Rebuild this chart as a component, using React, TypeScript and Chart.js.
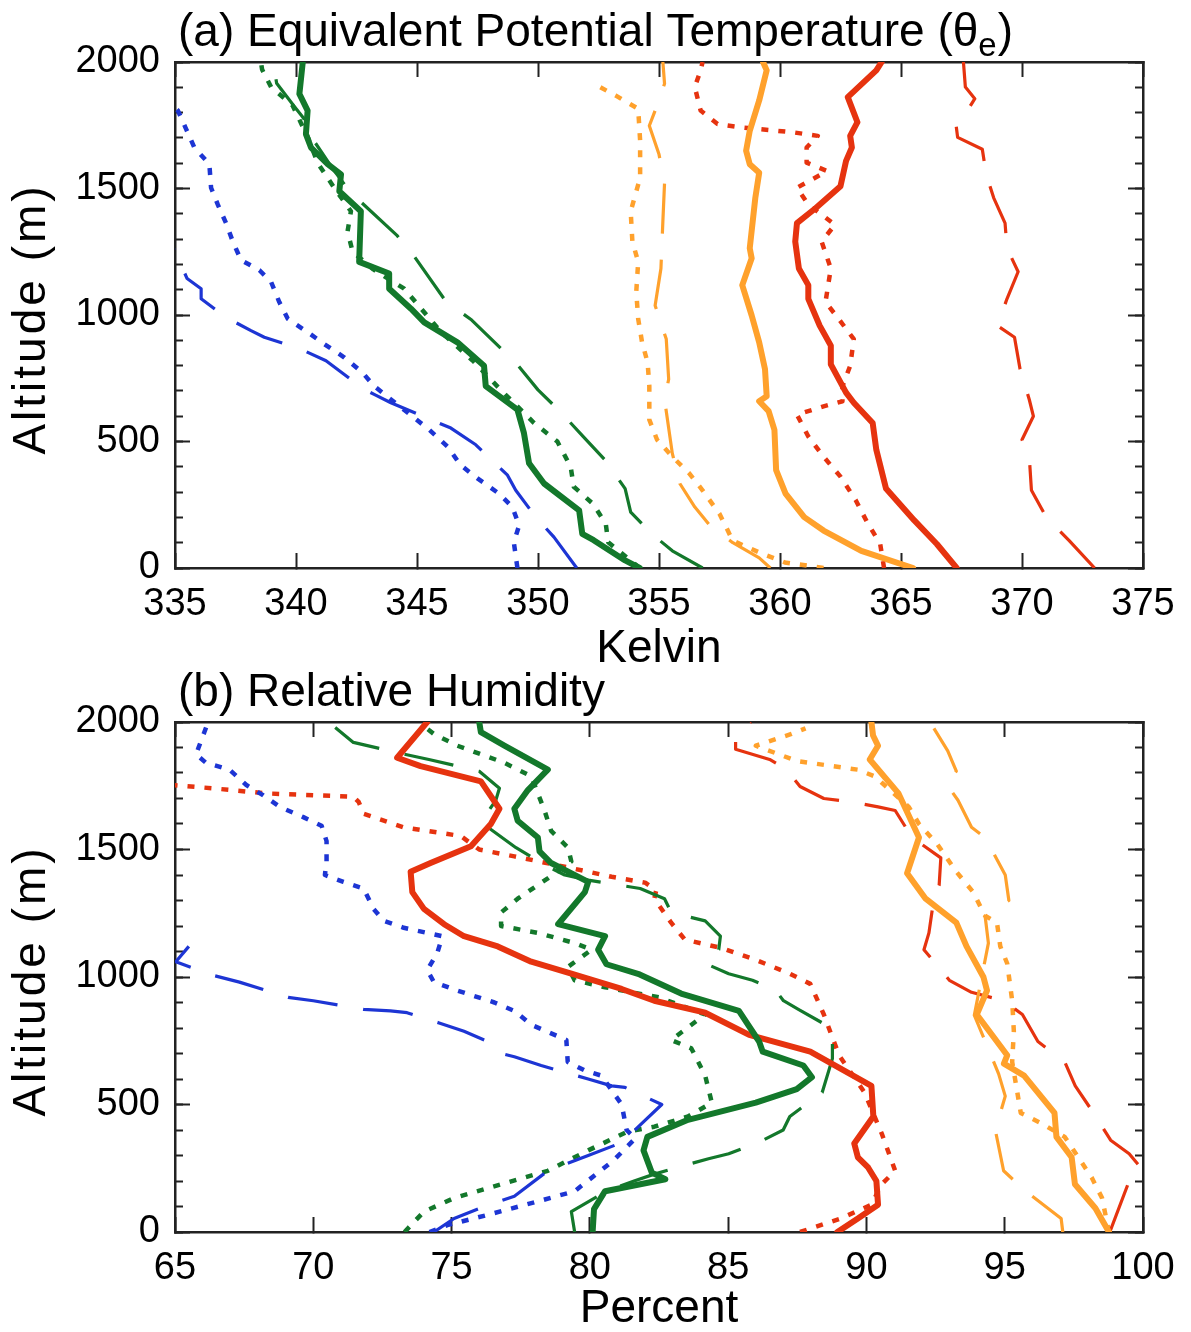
import React, { useEffect, useRef } from "react";
import { Chart, registerables } from "chart.js";

Chart.register(...registerables);

const FONT = "'Liberation Sans', Arial, Helvetica, sans-serif";

// ---------- Panel (a): equivalent potential temperature, pairs [Kelvin, altitude m]
const aXTicksStep = 5;
const aXRange = [335, 375];
const aTitle = ["(a) Equivalent Potential Temperature (θ", "e", ")"];

const aBlueDashed: [number, number][] = [
  [351.6, 0], [350.66, 122], [349.91, 201], [349.08, 307], [348.74, 367], [347.43, 487],
  [346.4, 553], [343.92, 653], [343.23, 686], [342.82, 706], [341.24, 819], [340.2, 865],
  [338.69, 912], [338.14, 938], [337.1, 991], [336.08, 1064], [336.08, 1104], [335.5, 1144],
  [335.1, 1230], [334.8, 1290],
];
const aBlueDotted: [number, number][] = [
  [349.15, 0], [349.0, 102], [349.22, 168], [348.94, 241], [348.39, 294], [347.5, 354],
  [346.8, 407], [346.26, 480], [345.5, 547], [344.4, 630], [343.23, 719], [342.75, 772],
  [342.0, 832], [341.17, 885], [340.48, 932], [339.66, 985], [339.31, 1051], [338.97, 1131],
  [338.49, 1177], [337.73, 1217], [337.39, 1290], [337.11, 1363], [336.77, 1436],
  [336.49, 1503], [336.42, 1596], [335.8, 1662], [335.46, 1735], [335.12, 1808], [334.9, 1830],
];
const aGreenSolid: [number, number][] = [
  [354.2, 0], [353.6, 30], [352.3, 110], [351.83, 135], [351.7, 228], [350.25, 334],
  [349.63, 414], [349.42, 533], [349.15, 626], [347.84, 719], [347.77, 799], [346.67, 892],
  [345.3, 971], [344.75, 1025], [343.85, 1104], [343.85, 1164], [342.61, 1210], [342.68, 1410],
  [341.79, 1489], [341.86, 1556], [341.31, 1596], [340.62, 1662], [340.41, 1715],
  [340.48, 1808], [340.14, 1874], [340.28, 2000],
];
const aGreenDashed: [number, number][] = [
  [356.8, 0], [355.55, 68], [354.7, 135], [353.83, 221], [353.6, 314], [352.77, 427],
  [351.87, 519], [350.9, 620], [350.0, 704], [349.1, 809], [347.26, 980], [346.2, 1053],
  [344.9, 1230], [344.16, 1316], [342.27, 1483], [341.5, 1580], [340.8, 1680], [340.3, 1780],
  [339.9, 1828], [339.2, 1916], [339.06, 2000],
];
const aGreenDotted: [number, number][] = [
  [354.2, 0], [352.9, 102], [352.8, 175], [352.27, 254], [351.48, 321], [351.35, 400],
  [350.8, 500], [349.84, 573], [348.5, 700], [347.3, 820], [346.0, 932], [344.47, 1104],
  [343.2, 1180], [342.34, 1250], [342.13, 1330], [342.27, 1410], [341.6, 1500], [340.9, 1600],
  [340.5, 1700], [339.86, 1828], [338.97, 1901], [338.6, 1970], [338.55, 2000],
];
const aOrangeSolid: [number, number][] = [
  [365.5, 0], [363.36, 68], [361.8, 148], [361.0, 201], [360.23, 294], [359.84, 387],
  [359.77, 546], [359.53, 620], [359.14, 659], [359.45, 679], [359.38, 786], [359.14, 892],
  [358.83, 998], [358.44, 1118], [358.83, 1224], [358.75, 1264], [358.98, 1463], [359.14, 1562],
  [358.75, 1596], [358.6, 1649], [358.75, 1728], [359.14, 1848], [359.45, 1967], [359.3, 2000],
];
const aOrangeDashed: [number, number][] = [
  [359.6, 0], [359.14, 40], [358.05, 100], [357.1, 168], [356.48, 241], [355.86, 334],
  [355.55, 453], [355.23, 666], [355.4, 746], [355.3, 905], [354.84, 1038], [355.08, 1184],
  [355.16, 1370], [355.23, 1523], [355.0, 1635], [354.6, 1748], [354.84, 1808], [355.23, 1914],
  [355.16, 2000],
];
const aOrangeDotted: [number, number][] = [
  [361.8, 0], [360.2, 22], [359.3, 55], [358.05, 108], [357.5, 214], [356.8, 307],
  [356.25, 374], [355.55, 440], [354.92, 507], [354.6, 586], [354.6, 719], [354.53, 812],
  [354.3, 892], [354.14, 985], [354.06, 1091], [354.14, 1210], [353.9, 1290], [353.83, 1410],
  [354.22, 1542], [354.22, 1689], [354.14, 1815], [353.2, 1868], [352.42, 1908],
];
const aRedSolid: [number, number][] = [
  [367.3, 0], [366.48, 95], [365.55, 188], [364.38, 314], [363.98, 467], [363.83, 573],
  [363.05, 653], [362.73, 693], [362.1, 805], [362.1, 879], [361.64, 958], [361.17, 1064],
  [361.17, 1118], [360.78, 1184], [360.63, 1290], [360.7, 1363], [361.48, 1423], [362.5, 1509],
  [362.73, 1609], [362.97, 1662], [362.9, 1708], [363.2, 1762], [362.8, 1861], [363.98, 1967],
  [364.2, 2000],
];
const aRedDashed: [number, number][] = [
  [373.0, 0], [371.95, 108], [371.0, 201], [370.39, 307], [370.3, 440], [370.0, 507],
  [370.47, 600], [370.3, 666], [369.92, 786], [369.69, 912], [368.98, 958], [369.38, 1064],
  [369.84, 1171], [369.38, 1264], [369.3, 1363], [368.83, 1463], [368.52, 1556], [368.36, 1655],
  [367.34, 1702], [367.27, 1755], [367.66, 1795], [368.05, 1855], [367.66, 1901], [367.58, 2000],
];
const aRedDotted: [number, number][] = [
  [364.3, 0], [364.14, 95], [363.6, 181], [363.13, 268], [362.5, 361], [361.8, 440],
  [361.17, 520], [360.7, 606], [361.8, 639], [362.58, 659], [362.58, 719], [362.9, 799],
  [363.05, 905], [362.42, 985], [361.88, 1051], [362.1, 1184], [361.72, 1290], [362.27, 1357],
  [361.17, 1436], [360.7, 1503], [361.95, 1569], [361.1, 1602], [361.1, 1662], [361.56, 1708],
  [360.55, 1722], [358.36, 1742], [357.42, 1755], [356.72, 1808], [356.48, 1901],
  [356.72, 1967], [356.8, 2000],
];

// ---------- Panel (b): relative humidity, pairs [percent, altitude m]
const bXTicksStep = 5;
const bXRange = [65, 100];
const bTitle = ["(b) Relative Humidity"];

const bBlueDashed: [number, number][] = [
  [74.36, 0], [75.09, 53], [76.18, 100], [77.27, 140], [78.48, 240], [79.94, 300],
  [81.21, 353], [81.7, 407], [82.6, 500], [81.27, 567], [80.79, 573], [79.94, 600],
  [78.24, 653], [77.27, 687], [76.79, 700], [76.18, 753], [75.45, 787], [74.55, 820],
  [73.39, 860], [72.79, 867], [71.82, 873], [70.0, 907], [69.09, 920], [67.33, 980],
  [66.36, 1007], [65.03, 1060], [65.5, 1120],
];
const bBlueDotted: [number, number][] = [
  [74.2, 0], [74.85, 27], [76.3, 67], [78.12, 120], [79.45, 160], [80.85, 280],
  [81.64, 367], [81.33, 400], [81.15, 500], [80.42, 613], [79.82, 633], [79.2, 667],
  [79.15, 753], [77.88, 813], [77.27, 867], [76.55, 900], [75.2, 947], [74.36, 980],
  [74.12, 1027], [74.48, 1093], [74.67, 1160], [73.27, 1193], [72.55, 1220], [72.18, 1267],
  [71.82, 1347], [71.09, 1373], [70.42, 1400], [70.48, 1453], [70.48, 1533], [70.3, 1593],
  [69.64, 1627], [68.79, 1667], [68.18, 1713], [67.58, 1753], [66.97, 1813], [66.12, 1840],
  [65.76, 1873], [66.06, 1960], [66.2, 2000],
];
const bGreenSolid: [number, number][] = [
  [80.1, 0], [80.15, 90], [80.55, 160], [82.73, 207], [82.24, 233], [81.94, 320],
  [82.08, 373], [83.55, 440], [86.0, 507], [87.48, 560], [88.03, 607], [87.72, 653],
  [86.25, 707], [86.12, 747], [85.39, 867], [83.3, 935], [81.8, 1010], [80.6, 1050],
  [80.3, 1107], [80.55, 1160], [78.85, 1207], [79.82, 1333], [79.94, 1373], [78.6, 1447],
  [78.18, 1493], [78.12, 1547], [77.39, 1613], [77.27, 1660], [77.76, 1733], [78.48, 1813],
  [76.91, 1907], [76.06, 1960], [76.0, 2000],
];
const bGreenDashed: [number, number][] = [
  [79.45, 0], [79.33, 80], [80.6, 160], [81.6, 200], [82.33, 227], [83.37, 260],
  [84.29, 287], [85.02, 307], [86.13, 353], [86.99, 400], [87.23, 453], [88.4, 547],
  [88.77, 680], [88.77, 773], [88.52, 813], [87.54, 873], [87.0, 907], [86.68, 953],
  [85.88, 987], [85.02, 1013], [84.17, 1053], [84.66, 1107], [84.72, 1160], [84.17, 1220],
  [82.94, 1253], [82.7, 1307], [81.82, 1347], [79.94, 1380], [79.09, 1400], [78.36, 1440],
  [77.33, 1507], [76.06, 1607], [76.6, 1693], [76.73, 1740], [76.0, 1807], [74.18, 1853],
  [73.03, 1880], [71.45, 1920], [70.55, 2000],
];
const bGreenDotted: [number, number][] = [
  [73.3, 0], [74.0, 80], [75.09, 133], [76.79, 187], [78.48, 240], [79.94, 320],
  [81.35, 393], [82.33, 413], [83.55, 453], [84.41, 507], [84.17, 613], [83.67, 720],
  [82.94, 753], [84.17, 853], [82.5, 920], [80.55, 960], [79.45, 987], [79.21, 1040],
  [80.06, 1107], [79.45, 1133], [78.12, 1173], [76.79, 1200], [76.79, 1253], [77.39, 1307],
  [78.48, 1387], [79.33, 1453], [79.21, 1507], [78.6, 1573], [78.36, 1653], [77.88, 1787],
  [76.91, 1840], [75.21, 1907], [74.36, 1953], [74.1, 1975],
];
const bOrangeSolid: [number, number][] = [
  [98.77, 0], [98.28, 93], [97.54, 187], [97.42, 293], [96.87, 373], [96.8, 467],
  [95.7, 613], [94.97, 660], [95.09, 693], [93.99, 853], [94.36, 947], [94.23, 1000],
  [93.62, 1120], [93.25, 1213], [92.14, 1307], [91.47, 1407], [91.9, 1547], [91.16, 1720],
  [90.12, 1853], [90.42, 1907], [90.24, 1947], [90.18, 2000],
];
const bOrangeDashed: [number, number][] = [
  [97.1, 0], [97.04, 53], [95.76, 160], [94.96, 240], [94.66, 400], [95.02, 533],
  [94.78, 620], [94.35, 733], [93.9, 850], [94.41, 1133], [94.29, 1240], [95.15, 1300],
  [95.02, 1400], [94.29, 1547], [93.8, 1587], [93.31, 1693], [92.88, 1760], [93.25, 1807],
  [92.94, 1887], [92.3, 2000],
];
const bOrangeDotted: [number, number][] = [
  [98.77, 0], [98.52, 133], [98.15, 213], [97.66, 293], [97.17, 373], [96.31, 427],
  [95.58, 467], [95.27, 667], [95.33, 787], [95.27, 907], [95.09, 1053], [94.84, 1120],
  [94.72, 1213], [94.29, 1240], [93.86, 1333], [93.25, 1413], [92.57, 1520], [91.9, 1600],
  [91.53, 1667], [90.3, 1787], [89.69, 1813], [87.48, 1847], [86.0, 1907], [87.29, 1953],
  [87.8, 1975],
];
const bRedSolid: [number, number][] = [
  [88.95, 0], [89.69, 53], [90.42, 107], [90.36, 200], [90.06, 253], [89.69, 293],
  [89.56, 347], [90.25, 453], [90.18, 573], [87.97, 707], [85.76, 773], [84.17, 860],
  [82.33, 907], [81.15, 953], [79.33, 1013], [77.88, 1060], [76.67, 1120], [75.45, 1160],
  [74.73, 1207], [74.0, 1267], [73.58, 1333], [73.52, 1413], [74.24, 1447], [75.7, 1513],
  [76.42, 1600], [76.73, 1660], [76.06, 1767], [73.88, 1827], [73.03, 1860], [74.12, 2000],
];
const bRedDashed: [number, number][] = [
  [98.8, 0], [99.5, 200], [99.9, 255], [99.5, 307], [98.83, 360], [98.21, 467],
  [97.55, 573], [97.17, 667], [96.2, 747], [95.64, 853], [94.96, 907], [93.8, 940],
  [93.0, 987], [92.08, 1107], [92.26, 1173], [92.42, 1293], [92.63, 1360], [92.69, 1467],
  [91.65, 1547], [91.04, 1653], [90.42, 1667], [89.44, 1687], [88.46, 1700], [87.6, 1747],
  [87.12, 1813], [86.5, 1853], [85.27, 1893], [85.27, 1947], [85.82, 2000],
];
const bRedDotted: [number, number][] = [
  [87.6, 0], [89.07, 53], [90.18, 107], [90.55, 187], [91.04, 240], [90.55, 387],
  [89.93, 547], [89.01, 693], [88.46, 853], [87.97, 973], [87.23, 1013], [86.0, 1067],
  [84.78, 1113], [83.43, 1147], [82.94, 1213], [82.33, 1307], [82.4, 1340], [82.0, 1370],
  [80.79, 1393], [79.33, 1427], [77.27, 1473], [76.0, 1500], [75.33, 1553], [73.27, 1587],
  [71.82, 1640], [71.64, 1687], [71.45, 1707], [70.0, 1713], [68.3, 1720], [66.36, 1740],
  [64.9, 1753],
];

const altRange = [0, 2000];
const yTitle = "Altitude (m)";

// ---------- styles
const BLUE = "#1d35d4";
const GREEN = "#13782b";
const ORANGE = "#ffa12c";
const RED = "#e6330f";

type Style = "solid" | "dashed" | "dotted";
const STYLE: Record<Style, { borderWidth: number; borderDash: number[]; borderCapStyle: string }> = {
  solid: { borderWidth: 6, borderDash: [], borderCapStyle: "round" },
  dashed: { borderWidth: 3.2, borderDash: [50, 26], borderCapStyle: "butt" },
  dotted: { borderWidth: 4.5, borderDash: [7, 10], borderCapStyle: "butt" },
};

function ds(label: string, pts: [number, number][], color: string, style: Style) {
  const s = STYLE[style];
  return {
    label,
    data: pts.map(([v, a]) => ({ x: v, y: a })),
    borderColor: color,
    backgroundColor: color,
    borderWidth: s.borderWidth,
    borderDash: s.borderDash,
    borderCapStyle: s.borderCapStyle,
    borderJoinStyle: "round",
    pointRadius: 0,
    pointHoverRadius: 0,
    fill: false,
    tension: 0,
    clip: 0,
  };
}

function titlePlugin(parts: string[]) {
  return {
    id: "panelTitle",
    afterDraw(chart: any) {
      const ctx = chart.ctx as CanvasRenderingContext2D;
      const area = chart.chartArea;
      ctx.save();
      ctx.fillStyle = "#000";
      ctx.textBaseline = "alphabetic";
      ctx.textAlign = "left";
      let x = 178;
      const y = area.top - 16;
      parts.forEach((p, i) => {
        const sub = i === 1;
        ctx.font = `${sub ? 33 : 46}px ${FONT}`;
        ctx.fillText(p, x, y + (sub ? 10 : 0));
        x += ctx.measureText(p).width + (sub ? 1 : 0);
      });
      ctx.restore();

      // vertical axis title
      ctx.save();
      ctx.fillStyle = "#000";
      ctx.font = `46px ${FONT}`;
      (ctx as any).letterSpacing = "3px";
      ctx.textAlign = "center";
      ctx.textBaseline = "middle";
      ctx.translate(32, (area.top + area.bottom) / 2 + 4);
      ctx.rotate(-Math.PI / 2);
      ctx.fillText(yTitle, 0, 0);
      ctx.restore();
    },
  };
}

function scales(xr: number[], step: number, xTitle: string, xHeight: number, xTitlePad: number) {
  const tickColor = "#222";
  const borderCfg = { display: true, color: "#222", width: 2.5 };
  const fmt = (v: any) => String(v);
  return {
    x: {
      type: "linear",
      position: "bottom",
      min: xr[0],
      max: xr[1],
      ticks: {
        stepSize: step,
        autoSkip: false,
        maxRotation: 0,
        padding: 29,
        color: "#000",
        font: { size: 38, family: FONT },
        callback: fmt,
      },
      grid: { drawOnChartArea: false, tickLength: -15, tickWidth: 2, tickColor },
      border: borderCfg,
      title: {
        display: true,
        text: xTitle,
        color: "#000",
        font: { size: 46, family: FONT, lineHeight: 1 },
        padding: { top: 0, bottom: xTitlePad },
      },
      afterFit: (s: any) => {
        s.height = xHeight;
        s.paddingLeft = 0;
        s.paddingRight = 0;
      },
    },
    xTop: {
      type: "linear",
      position: "top",
      min: xr[0],
      max: xr[1],
      ticks: { display: false, stepSize: step, autoSkip: false },
      grid: { drawOnChartArea: false, tickLength: -15, tickWidth: 2, tickColor },
      border: borderCfg,
      afterFit: (s: any) => {
        s.height = 0;
        s.paddingLeft = 0;
        s.paddingRight = 0;
      },
    },
    y: {
      type: "linear",
      position: "left",
      weight: 2,
      min: altRange[0],
      max: altRange[1],
      ticks: {
        stepSize: 500,
        autoSkip: false,
        padding: 30,
        color: "#000",
        font: { size: 38, family: FONT },
        callback: fmt,
      },
      grid: { drawOnChartArea: false, tickLength: -15, tickWidth: 2, tickColor },
      border: borderCfg,
      title: { display: false },
      afterFit: (s: any) => {
        s.width = 175;
        s.paddingTop = 0;
        s.paddingBottom = 0;
      },
    },
    yMinorL: {
      type: "linear",
      position: "left",
      weight: 1,
      min: altRange[0],
      max: altRange[1],
      ticks: { display: false, stepSize: 100, autoSkip: false },
      grid: { drawOnChartArea: false, tickLength: -8, tickWidth: 2, tickColor },
      border: { display: false },
      afterFit: (s: any) => {
        s.width = 0;
      },
    },
    yR: {
      type: "linear",
      position: "right",
      min: altRange[0],
      max: altRange[1],
      ticks: { display: false, stepSize: 500, autoSkip: false },
      grid: { drawOnChartArea: false, tickLength: -15, tickWidth: 2, tickColor },
      border: borderCfg,
      afterFit: (s: any) => {
        s.width = 0;
      },
    },
    yMinorR: {
      type: "linear",
      position: "right",
      min: altRange[0],
      max: altRange[1],
      ticks: { display: false, stepSize: 100, autoSkip: false },
      grid: { drawOnChartArea: false, tickLength: -8, tickWidth: 2, tickColor },
      border: { display: false },
      afterFit: (s: any) => {
        s.width = 0;
      },
    },
  };
}

function makeChart(
  canvas: HTMLCanvasElement,
  datasets: any[],
  xr: number[],
  step: number,
  xTitle: string,
  title: string[],
  padTop: number,
  xHeight: number,
  xTitlePad: number
) {
  return new Chart(canvas, {
    type: "line",
    data: { datasets },
    options: {
      responsive: false,
      animation: false,
      devicePixelRatio: 1,
      layout: { padding: { top: padTop, left: 0, right: 48, bottom: 0 } },
      plugins: { legend: { display: false }, tooltip: { enabled: false } },
      events: [],
      scales: scales(xr, step, xTitle, xHeight, xTitlePad) as any,
    } as any,
    plugins: [titlePlugin(title)],
  } as any);
}

export default function App() {
  const refA = useRef<HTMLCanvasElement>(null);
  const refB = useRef<HTMLCanvasElement>(null);

  useEffect(() => {
    const dsA = [
      ds("green solid", aGreenSolid, GREEN, "solid"),
      ds("orange solid", aOrangeSolid, ORANGE, "solid"),
      ds("red solid", aRedSolid, RED, "solid"),
      ds("blue dashed", aBlueDashed, BLUE, "dashed"),
      ds("green dashed", aGreenDashed, GREEN, "dashed"),
      ds("orange dashed", aOrangeDashed, ORANGE, "dashed"),
      ds("red dashed", aRedDashed, RED, "dashed"),
      ds("blue dotted", aBlueDotted, BLUE, "dotted"),
      ds("green dotted", aGreenDotted, GREEN, "dotted"),
      ds("orange dotted", aOrangeDotted, ORANGE, "dotted"),
      ds("red dotted", aRedDotted, RED, "dotted"),
    ];
    const dsB = [
      ds("green solid", bGreenSolid, GREEN, "solid"),
      ds("orange solid", bOrangeSolid, ORANGE, "solid"),
      ds("red solid", bRedSolid, RED, "solid"),
      ds("blue dashed", bBlueDashed, BLUE, "dashed"),
      ds("green dashed", bGreenDashed, GREEN, "dashed"),
      ds("orange dashed", bOrangeDashed, ORANGE, "dashed"),
      ds("red dashed", bRedDashed, RED, "dashed"),
      ds("blue dotted", bBlueDotted, BLUE, "dotted"),
      ds("green dotted", bGreenDotted, GREEN, "dotted"),
      ds("orange dotted", bOrangeDotted, ORANGE, "dotted"),
      ds("red dotted", bRedDotted, RED, "dotted"),
    ];
    const cA = makeChart(refA.current!, dsA, aXRange, aXTicksStep, "Kelvin", aTitle, 62, 112, 8);
    const cB = makeChart(refB.current!, dsB, bXRange, bXTicksStep, "Percent", bTitle, 72, 100, 0);
    return () => {
      cA.destroy();
      cB.destroy();
    };
  }, []);

  return (
    <div
      style={{
        position: "absolute",
        left: 0,
        top: 0,
        width: 1191,
        height: 1332,
        background: "#fff",
        overflow: "hidden",
      }}
    >
      <canvas ref={refA} width={1191} height={680} style={{ position: "absolute", left: 0, top: 0 }} />
      <canvas ref={refB} width={1191} height={682} style={{ position: "absolute", left: 0, top: 650 }} />
    </div>
  );
}
